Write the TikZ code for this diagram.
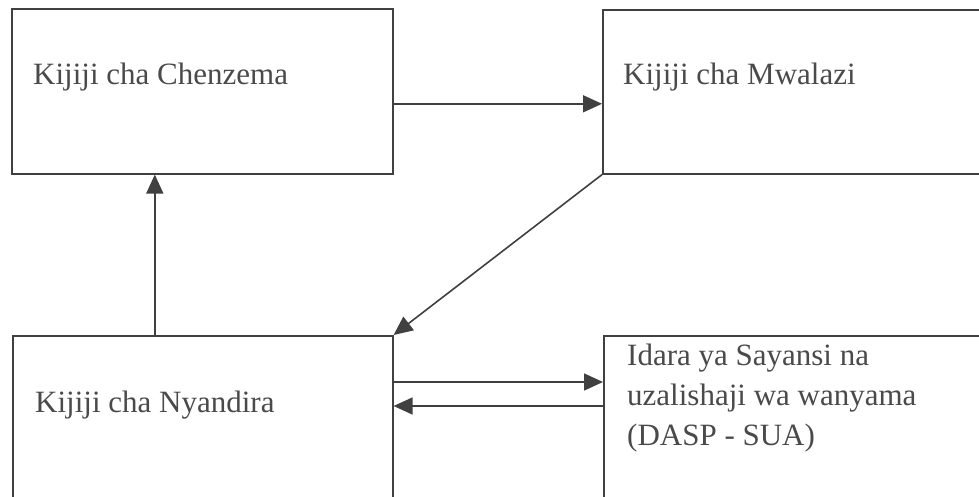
\documentclass[tikz,border=0pt]{standalone}
\usepackage{fontspec}
\setmainfont{Liberation Serif}
\usetikzlibrary{arrows.meta}
\definecolor{ink}{HTML}{404040}
\definecolor{txt}{HTML}{4A4A4A}
\begin{document}
\begin{tikzpicture}[x=1pt,y=-1pt,
  box/.style={draw=ink, line width=1.6pt, rectangle, anchor=north west, inner sep=0pt},
  lbl/.style={anchor=base west, inner sep=0pt, text=txt, font=\fontsize{31}{40}\selectfont, align=left},
  arr/.style={draw=ink, line width=1.6pt, -{Triangle[length=19pt,width=17pt]}}]
\useasboundingbox[fill=white] (0,0) rectangle (979,497);
\node[box, minimum width=381pt, minimum height=165pt] (tl) at (11,8) {};
\node[box, minimum width=400pt, minimum height=164pt] (tr) at (602,9) {};
\node[box, minimum width=380pt, minimum height=180pt] (bl) at (12,335) {};
\node[box, minimum width=400pt, minimum height=180pt] (br) at (603,335) {};
\node[lbl] (tlt) at (33,85) {Kijiji cha Chenzema};
\node[lbl] (trt) at (623,85) {Kijiji cha Mwalazi};
\node[lbl] (blt) at (35,412) {Kijiji cha Nyandira};
\node[lbl, anchor=north west] (brt) at (627,344) {Idara ya Sayansi na\\uzalishaji wa wanyama\\(DASP - SUA)};
\draw[arr] ([yshift=-12.5pt]tl.east) -- ([yshift=-12.5pt]tl.east -| tr.west);
\draw[arr] (tr.south west) -- (bl.north east);
\draw[arr] ([xshift=-48pt]bl.north) -- ([xshift=-48pt]bl.north |- tl.south);
\draw[arr] ([yshift=-47pt]bl.north east) -- ([yshift=-47pt]bl.north east -| br.west);
\draw[arr] ([yshift=-71pt]br.north west) -- ([yshift=-71pt]br.north west -| bl.east);
\end{tikzpicture}
\end{document}
